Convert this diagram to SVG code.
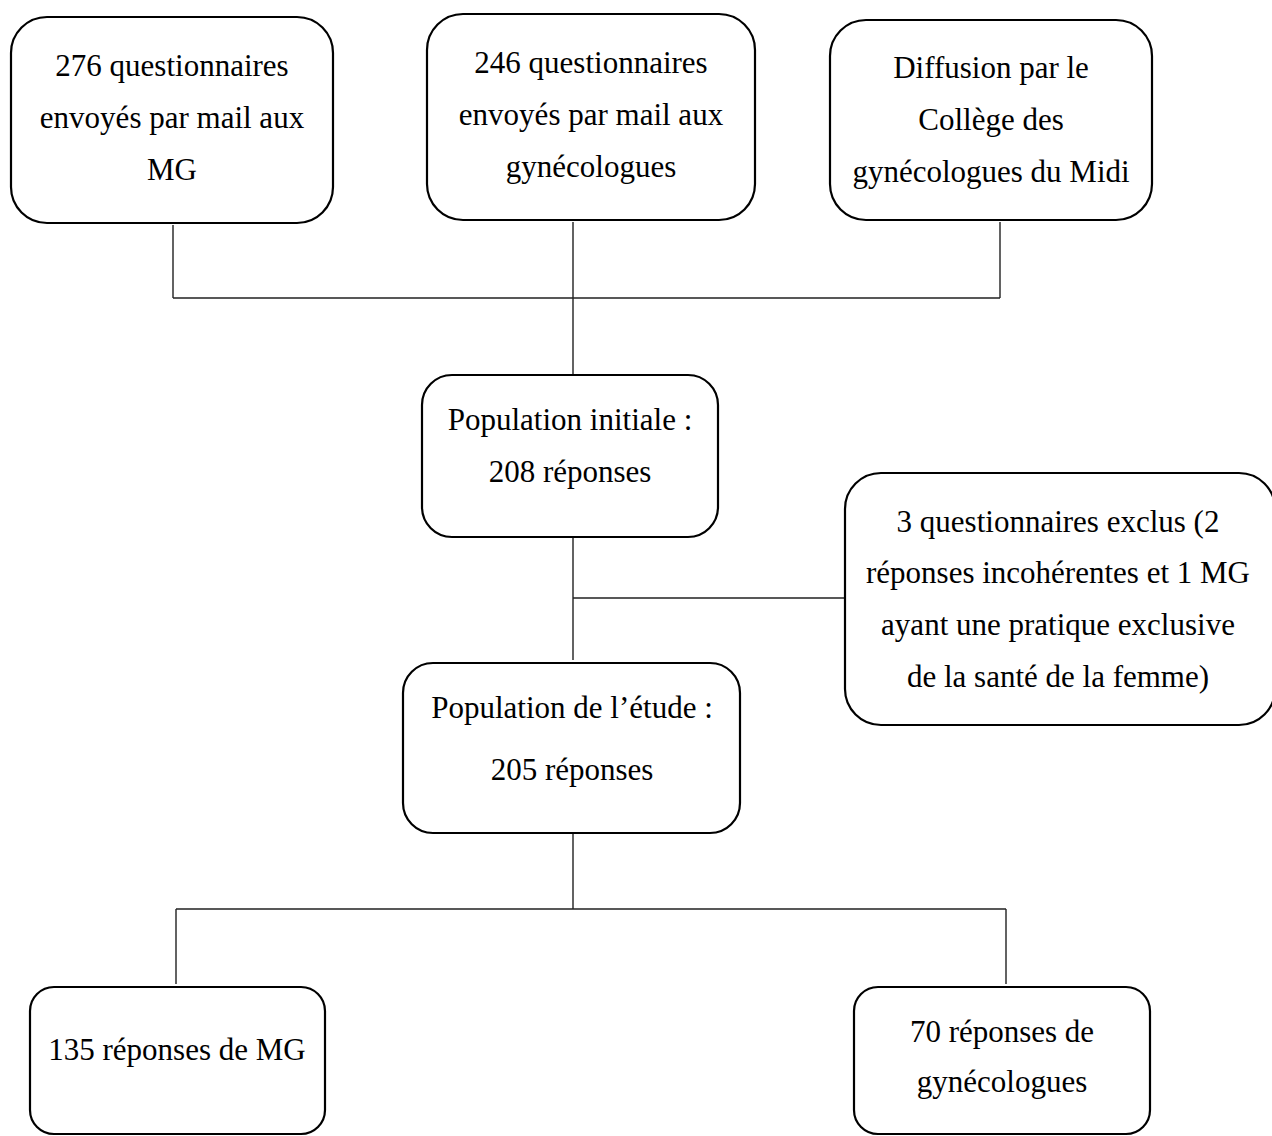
<svg xmlns="http://www.w3.org/2000/svg" width="1272" height="1136" viewBox="0 0 1272 1136">
<style>
.box{fill:#fff;stroke:#000;stroke-width:2.2}
.t{font-family:"Liberation Serif","DejaVu Serif",serif;font-size:31px;fill:#000;text-anchor:middle}
.c{stroke:#222;stroke-width:1.4;fill:none}
</style>
<rect width="1272" height="1136" fill="#fff"/>
<g id="connectors">
<path class="c" d="M173 225V298M573 222V375M1000 222V298M173 298H1000"/>
<path class="c" d="M573 537V660M573 598H845"/>
<path class="c" d="M573 833V909M176 909H1006M176 909V984M1006 909V984"/>
</g>
<g id="n1"><rect class="box" x="11" y="17" width="322" height="206" rx="36"/>
<text class="t"><tspan x="172" y="76">276 questionnaires</tspan><tspan x="172" y="128">envoyés par mail aux</tspan><tspan x="172" y="180">MG</tspan></text></g>
<g id="n2"><rect class="box" x="427" y="14" width="328" height="206" rx="36"/>
<text class="t"><tspan x="591" y="73">246 questionnaires</tspan><tspan x="591" y="125">envoyés par mail aux</tspan><tspan x="591" y="177">gynécologues</tspan></text></g>
<g id="n3"><rect class="box" x="830" y="20" width="322" height="200" rx="36"/>
<text class="t"><tspan x="991" y="78">Diffusion par le</tspan><tspan x="991" y="130">Collège des</tspan><tspan x="991" y="182">gynécologues du Midi</tspan></text></g>
<g id="n4"><rect class="box" x="422" y="375" width="296" height="162" rx="30"/>
<text class="t"><tspan x="570" y="430">Population initiale :</tspan><tspan x="570" y="482">208 réponses</tspan></text></g>
<g id="n5"><rect class="box" x="845" y="473" width="430" height="252" rx="36"/>
<text class="t"><tspan x="1058" y="532">3 questionnaires exclus (2</tspan><tspan x="1058" y="583">réponses incohérentes et 1 MG</tspan><tspan x="1058" y="635">ayant une pratique exclusive</tspan><tspan x="1058" y="687">de la santé de la femme)</tspan></text></g>
<g id="n6"><rect class="box" x="403" y="663" width="337" height="170" rx="30"/>
<text class="t"><tspan x="572" y="718">Population de l’étude :</tspan><tspan x="572" y="780">205 réponses</tspan></text></g>
<g id="n7"><rect class="box" x="30" y="987" width="295" height="147" rx="24"/>
<text class="t"><tspan x="177" y="1060">135 réponses de MG</tspan></text></g>
<g id="n8"><rect class="box" x="854" y="987" width="296" height="147" rx="24"/>
<text class="t"><tspan x="1002" y="1042">70 réponses de</tspan><tspan x="1002" y="1092">gynécologues</tspan></text></g>
</svg>
